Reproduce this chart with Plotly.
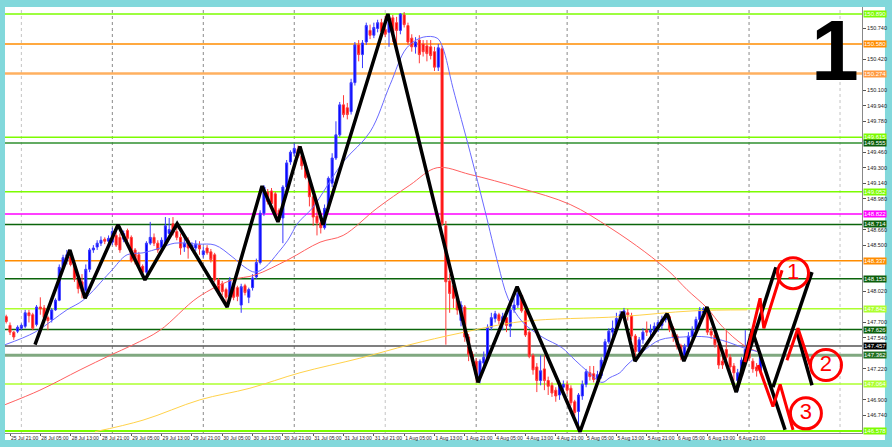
import plotly.graph_objects as go

# ---------------- data ----------------
bar_index = list(range(-1, 199))
open_ = [147.76, 147.67, 147.60, 147.61, 147.64, 147.66, 147.80, 147.78, 147.68, 147.86,
         147.85, 147.75, 147.73, 147.83, 147.93, 148.27, 148.34, 148.38, 148.30, 148.15,
         148.12, 148.03, 148.25, 148.45, 148.48, 148.52, 148.56, 148.54, 148.53, 148.60,
         148.58, 148.56, 148.65, 148.58, 148.45, 148.40, 148.28, 148.22, 148.52, 148.58,
         148.52, 148.47, 148.52, 148.62, 148.72, 148.64, 148.58, 148.48, 148.55, 148.47,
         148.47, 148.50, 148.40, 148.47, 148.43, 148.40, 148.14, 148.10, 148.04, 147.97,
         148.10, 148.06, 147.88, 148.08, 147.96, 148.06, 148.17, 148.32, 148.83, 149.05,
         149.06, 149.03, 148.86, 148.78, 149.10, 149.36, 149.45, 149.49, 149.42, 149.32,
         149.17, 149.00, 148.80, 148.73, 148.68, 148.88, 149.14, 149.40, 149.64, 149.95,
         149.92, 149.88, 150.18, 150.57, 150.47, 150.60, 150.72, 150.67, 150.74, 150.80,
         150.73, 150.70, 150.85, 150.80, 150.72, 150.88, 150.77, 150.64, 150.55, 150.62,
         150.58, 150.56, 150.55, 150.50, 150.34, 150.53, 148.70, 148.13, 148.08, 147.95,
         147.72, 147.86, 147.55, 147.37, 147.30, 147.14, 147.28, 147.32, 147.65, 147.74,
         147.78, 147.71, 147.75, 147.66, 147.83, 147.88, 147.98, 147.82, 147.60, 147.36,
         147.24, 147.10, 147.22, 147.10, 147.05, 147.00, 146.95, 147.03, 147.06, 147.02,
         146.88, 146.78, 146.94, 147.06, 147.18, 147.17, 147.12, 147.15, 147.30, 147.50,
         147.60, 147.62, 147.73, 147.76, 147.80, 147.77, 147.56, 147.40, 147.52, 147.62,
         147.60, 147.61, 147.64, 147.67, 147.73, 147.76, 147.64, 147.56, 147.46, 147.36,
         147.45, 147.55, 147.62, 147.73, 147.80, 147.84, 147.61, 147.57, 147.47, 147.30,
         147.42, 147.34, 147.25, 147.10, 147.17, 147.31, 147.40, 147.30, 147.24, 147.20]
high = [147.78, 147.70, 147.61, 147.67, 147.69, 147.83, 147.83, 147.80, 147.88, 147.96,
        147.88, 147.77, 147.85, 147.95, 148.30, 148.40, 148.45, 148.42, 148.32, 148.17,
        148.20, 148.30, 148.47, 148.50, 148.55, 148.59, 148.58, 148.60, 148.68, 148.70,
        148.62, 148.65, 148.67, 148.60, 148.47, 148.43, 148.30, 148.54, 148.74, 148.62,
        148.55, 148.58, 148.79, 148.78, 148.79, 148.70, 148.62, 148.58, 148.58, 148.53,
        148.55, 148.54, 148.48, 148.50, 148.46, 148.42, 148.16, 148.13, 148.06, 148.17,
        148.12, 148.08, 148.10, 148.10, 148.06, 148.20, 148.36, 148.86, 149.12, 149.08,
        149.09, 149.05, 148.88, 149.12, 149.38, 149.48, 149.55, 149.53, 149.44, 149.36,
        149.20, 149.02, 148.93, 148.80, 148.92, 149.21, 149.45, 149.78, 149.98, 150.05,
        149.97, 150.22, 150.60, 150.62, 150.62, 150.80, 150.78, 150.80, 150.83, 150.84,
        150.87, 150.89, 150.88, 150.86, 150.90, 150.91, 150.80, 150.68, 150.65, 150.67,
        150.62, 150.62, 150.62, 150.55, 150.58, 150.56, 148.75, 148.20, 148.12, 147.98,
        147.92, 147.88, 147.58, 147.40, 147.33, 147.32, 147.40, 147.68, 147.80, 147.82,
        147.80, 147.80, 147.78, 147.86, 147.95, 148.07, 147.92, 147.85, 147.62, 147.38,
        147.28, 147.36, 147.36, 147.14, 147.08, 147.03, 147.10, 147.10, 147.10, 147.05,
        146.90, 146.97, 147.10, 147.22, 147.25, 147.25, 147.20, 147.34, 147.53, 147.64,
        147.72, 147.80, 147.82, 147.85, 147.84, 147.80, 147.58, 147.55, 147.64, 147.71,
        147.68, 147.70, 147.73, 147.77, 147.80, 147.78, 147.66, 147.58, 147.48, 147.48,
        147.60, 147.66, 147.76, 147.86, 147.86, 147.86, 147.65, 147.60, 147.50, 147.40,
        147.62, 147.37, 147.28, 147.22, 147.34, 147.62, 147.45, 147.33, 147.28, 147.40]
low = [147.69, 147.57, 147.52, 147.59, 147.62, 147.64, 147.70, 147.62, 147.66, 147.78,
       147.73, 147.62, 147.70, 147.82, 147.92, 148.25, 148.30, 148.28, 148.12, 148.00,
       147.95, 148.00, 148.22, 148.42, 148.45, 148.49, 148.51, 148.52, 148.50, 148.48,
       148.42, 148.53, 148.54, 148.32, 148.30, 148.25, 148.16, 148.20, 148.50, 148.49,
       148.42, 148.44, 148.50, 148.58, 148.60, 148.55, 148.40, 148.43, 148.36, 148.44,
       148.44, 148.40, 148.37, 148.40, 148.32, 148.12, 147.98, 147.98, 147.86, 147.92,
       147.93, 147.92, 147.80, 147.98, 147.90, 148.03, 148.15, 148.30, 148.80, 148.92,
       148.90, 148.78, 148.74, 148.52, 149.08, 149.33, 149.42, 149.40, 149.28, 149.18,
       148.90, 148.70, 148.60, 148.62, 148.66, 148.85, 149.10, 149.38, 149.62, 149.82,
       149.80, 149.85, 150.15, 150.40, 150.33, 150.57, 150.63, 150.64, 150.70, 150.68,
       150.65, 150.55, 150.60, 150.55, 150.68, 150.75, 150.57, 150.50, 150.48, 150.38,
       150.45, 150.40, 150.42, 150.30, 150.30, 148.70, 147.47, 147.80, 147.85, 147.78,
       147.66, 147.50, 147.30, 147.25, 147.08, 147.07, 147.24, 147.30, 147.62, 147.70,
       147.68, 147.62, 147.60, 147.55, 147.80, 147.85, 147.80, 147.55, 147.33, 147.16,
       146.98, 147.05, 147.00, 146.95, 146.93, 146.88, 146.90, 146.98, 146.96, 146.84,
       146.73, 146.58, 146.90, 147.03, 147.10, 147.08, 147.08, 147.12, 147.28, 147.48,
       147.55, 147.58, 147.70, 147.72, 147.72, 147.52, 147.32, 147.36, 147.48, 147.56,
       147.56, 147.57, 147.60, 147.63, 147.70, 147.60, 147.50, 147.42, 147.31, 147.30,
       147.42, 147.52, 147.58, 147.70, 147.76, 147.57, 147.53, 147.44, 147.22, 147.22,
       147.30, 147.20, 147.10, 146.98, 147.14, 147.28, 147.30, 147.18, 147.14, 147.17]
close = [147.71, 147.60, 147.55, 147.65, 147.67, 147.80, 147.77, 147.64, 147.86, 147.84,
         147.75, 147.72, 147.83, 147.93, 148.27, 148.37, 148.40, 148.30, 148.15, 148.05,
         148.02, 148.25, 148.45, 148.47, 148.52, 148.55, 148.54, 148.57, 148.64, 148.50,
         148.45, 148.62, 148.57, 148.34, 148.35, 148.28, 148.22, 148.52, 148.58, 148.52,
         148.45, 148.55, 148.70, 148.66, 148.63, 148.58, 148.47, 148.52, 148.47, 148.50,
         148.51, 148.46, 148.44, 148.42, 148.35, 148.14, 148.02, 148.02, 147.96, 148.14,
         147.96, 147.97, 148.07, 148.01, 148.04, 148.16, 148.32, 148.83, 149.10, 148.95,
         148.93, 148.81, 148.76, 149.10, 149.35, 149.46, 149.50, 149.42, 149.32, 149.20,
         149.00, 148.79, 148.73, 148.68, 148.88, 149.19, 149.40, 149.64, 149.95, 149.85,
         149.85, 150.18, 150.57, 150.47, 150.59, 150.77, 150.67, 150.75, 150.80, 150.71,
         150.68, 150.85, 150.69, 150.72, 150.89, 150.78, 150.60, 150.55, 150.60, 150.47,
         150.50, 150.48, 150.46, 150.34, 150.54, 148.72, 148.12, 148.00, 147.95, 147.83,
         147.88, 147.55, 147.37, 147.30, 147.16, 147.30, 147.34, 147.65, 147.75, 147.79,
         147.72, 147.76, 147.67, 147.83, 147.88, 148.00, 147.82, 147.57, 147.35, 147.21,
         147.10, 147.20, 147.10, 147.04, 146.97, 146.94, 147.05, 147.06, 147.00, 146.87,
         146.77, 146.95, 147.06, 147.19, 147.14, 147.11, 147.16, 147.31, 147.50, 147.61,
         147.64, 147.74, 147.78, 147.82, 147.78, 147.56, 147.40, 147.52, 147.60, 147.60,
         147.62, 147.66, 147.70, 147.73, 147.78, 147.63, 147.55, 147.45, 147.36, 147.45,
         147.56, 147.62, 147.73, 147.83, 147.84, 147.60, 147.57, 147.47, 147.26, 147.26,
         147.34, 147.24, 147.18, 147.18, 147.31, 147.42, 147.33, 147.22, 147.20, 147.36]

tick_bars = [0, 8, 16, 24, 32, 40, 48, 56, 64, 72, 80, 88, 96, 104, 112, 120,
             128, 136, 144, 152, 160, 168, 176, 184, 192]
tick_labels = ["25 Jul 21:00", "28 Jul 05:00", "28 Jul 13:00", "28 Jul 21:00",
               "29 Jul 05:00", "29 Jul 13:00", "29 Jul 21:00", "30 Jul 05:00",
               "30 Jul 13:00", "30 Jul 21:00", "31 Jul 05:00", "31 Jul 13:00",
               "31 Jul 21:00", "1 Aug 05:00", "1 Aug 13:00", "1 Aug 21:00",
               "4 Aug 05:00", "4 Aug 13:00", "4 Aug 21:00", "5 Aug 05:00",
               "5 Aug 13:00", "5 Aug 21:00", "6 Aug 05:00", "6 Aug 13:00", "6 Aug 21:00"]
day_start_bars = [3, 27, 51, 75, 99, 123, 147, 171, 195, 219]

price_ticks = [150.740, 150.420, 150.100, 149.940, 149.780, 149.460, 149.300, 149.140,
               148.980, 148.660, 148.500, 148.020, 147.700, 147.540, 147.220, 146.900, 146.740]

level_prices = [150.890, 150.580, 150.274, 149.615, 149.555, 149.052, 148.822, 148.714,
                148.337, 148.153, 147.842, 147.626, 147.457, 147.362, 147.064, 146.578]

# moving averages (read at points along the curves)
ma_fast_bar = [-1.3, 6.6, 15.0, 19.3, 26.4, 30.9, 35.1, 39.6, 43.5, 49.6, 54.1, 58.6, 62.0, 64.6,
               67.3, 70.7, 73.3, 76.0, 79.7, 87.9, 95.0, 100.3, 104.7, 109.0, 112.7, 114.2,
               116.9, 121.4, 125.3, 128.8, 131.4, 135.1, 140.4, 145.6, 149.1, 152.5, 156.2,
               158.3, 160.9, 162.8, 167.0, 171.5, 177.6, 183.9, 189.2, 193.4, 197.1]
ma_fast_val = [147.47, 147.60, 147.83, 147.93, 148.22, 148.40, 148.42, 148.47, 148.52, 148.51,
               148.50, 148.38, 148.27, 148.22, 148.27, 148.42, 148.55, 148.73, 148.88, 149.36,
               149.67, 150.16, 150.54, 150.65, 150.64, 150.54, 150.12, 149.46, 148.86, 148.30,
               147.95, 147.71, 147.55, 147.44, 147.31, 147.19, 147.08, 147.13, 147.18, 147.26,
               147.40, 147.52, 147.55, 147.55, 147.50, 147.44, 147.40]
ma_mid_bar = [-1.3, 7.9, 18.5, 26.4, 32.5, 39.6, 49.6, 58.6, 64.6, 73.4, 81.8, 87.9, 96.8,
              105.5, 112.7, 121.4, 134.6, 147.8, 158.3, 167.5, 174.1, 178.6, 183.9, 188.1,
              193.4, 197.1]
ma_mid_val = [146.85, 147.00, 147.21, 147.36, 147.47, 147.62, 147.96, 148.14, 148.19, 148.35,
              148.53, 148.60, 148.88, 149.12, 149.30, 149.23, 149.09, 148.92, 148.68, 148.43,
              148.22, 148.04, 147.85, 147.65, 147.47, 147.40]
ma_slow_bar = [22.4, 35.1, 50.1, 63.3, 76.5, 92.3, 105.5, 118.7, 135.1, 160.9, 180.2, 194.5]
ma_slow_val = [146.57, 146.69, 146.90, 147.02, 147.18, 147.33, 147.47, 147.59, 147.71, 147.76,
               147.82, 147.83]

# hand-drawn wave lines
zigzag_bar = [6.6, 15.8, 19.8, 28.5, 35.6, 44.1, 57.3, 66.5, 70.7, 76.5, 82.6, 99.7, 123.5,
              133.8, 150.4, 161.7, 164.9, 173.4, 177.8, 183.9, 191.6, 195.8, 204.5]
zigzag_price = [147.47, 148.45, 147.95, 148.71, 148.14, 148.72, 147.86, 149.11, 148.74, 149.52,
                148.71, 150.89, 147.08, 148.07, 146.57, 147.81, 147.30, 147.79, 147.30, 147.86,
                146.98, 147.62, 146.59]
black_extra_bar = [[191.6, 202.1], [201.3, 211.6], [207.7, 211.6]]
black_extra_price = [[146.98, 148.27], [147.03, 148.22], [147.59, 147.05]]
red_path_bar = [[193.9, 197.9, 198.9, 203.7], [205.0, 207.9, 211.1], [197.4, 201.3, 203.2, 206.6]]
red_path_price = [[147.29, 147.95, 147.64, 148.24], [147.31, 147.64, 147.26],
                  [147.26, 146.83, 147.06, 146.59]]
circle_bar = [206.6, 215.3, 210.0]
circle_price = [148.21, 147.26, 146.76]
circle_label = ["1", "2", "3"]
big_label = "1"

# ---------------- styles ----------------
level_line_colors = ["#7CFC00", "#FF8C00", "#FFB060", "#7CFC00", "#2F8F2F", "#7CFC00", "#FF00FF",
                     "#0B640B", "#FF8C00", "#0B640B", "#ADFF2F", "#0B640B", "#555555", "#80A880",
                     "#ADFF2F", "#7CFC00"]
level_label_colors = ["#7CFC00", "#FF8C00", "#FF9A40", "#7CFC00", "#0B5E0B", "#7CFC00", "#FF00FF",
                      "#0B5E0B", "#FF8C00", "#0B5E0B", "#ADFF2F", "#0B5E0B", "#000000", "#1F6F1F",
                      "#ADFF2F", "#7CFC00"]
level_widths = [1.5, 1.5, 2.5, 1.5, 1.5, 1.5, 1.5, 1.5, 1.5, 1.5, 1.5, 1.5, 1.5, 3, 1.5, 2]
day_line_colors = ["#c4c4c4", "#8a8a8a", "#8a8a8a", "#8a8a8a", "#c4c4c4", "#8a8a8a",
                   "#8a8a8a", "#8a8a8a", "#8a8a8a", "#c4c4c4"]

X_RANGE = [-1.32, 224.8]
Y_RANGE = [146.557, 150.962]
FONT = "Liberation Sans, Arial, sans-serif"

fig = go.Figure()

fig.add_trace(go.Candlestick(
    x=bar_index, open=open_, high=high, low=low, close=close,
    increasing=dict(line=dict(color="#3a3aff", width=1), fillcolor="#0000ff"),
    decreasing=dict(line=dict(color="#ff3a3a", width=1), fillcolor="#ff0000"),
    whiskerwidth=0, showlegend=False, hoverinfo="skip"))

fig.add_trace(go.Scatter(x=ma_slow_bar, y=ma_slow_val, mode="lines", line=dict(color="#FFD24A", width=1, shape="spline"), showlegend=False, hoverinfo="skip"))
fig.add_trace(go.Scatter(x=ma_mid_bar, y=ma_mid_val, mode="lines", line=dict(color="#FF6060", width=1, shape="spline"), showlegend=False, hoverinfo="skip"))
fig.add_trace(go.Scatter(x=ma_fast_bar, y=ma_fast_val, mode="lines", line=dict(color="#6A6AFF", width=1, shape="spline"), showlegend=False, hoverinfo="skip"))

fig.add_trace(go.Scatter(x=zigzag_bar, y=zigzag_price, mode="lines", line=dict(color="#000000", width=3.5), showlegend=False, hoverinfo="skip"))
for bx, py in zip(black_extra_bar, black_extra_price):
    fig.add_trace(go.Scatter(x=bx, y=py, mode="lines", line=dict(color="#000000", width=3.5), showlegend=False, hoverinfo="skip"))
for bx, py in zip(red_path_bar, red_path_price):
    fig.add_trace(go.Scatter(x=bx, y=py, mode="lines", line=dict(color="#FF0000", width=3), showlegend=False, hoverinfo="skip"))

fig.add_trace(go.Scatter(
    x=circle_bar, y=circle_price, mode="markers+text", text=circle_label,
    textposition="middle center", textfont=dict(color="#FF0000", size=22, family=FONT),
    marker=dict(symbol="circle-open", size=31, color="#FF0000", line=dict(width=3)),
    showlegend=False, hoverinfo="skip", cliponaxis=False))

shapes = [dict(type="rect", xref="paper", yref="paper", x0=0, x1=1.0268, y0=-0.0165, y1=1.0,
               fillcolor="white", line=dict(width=0), layer="below")]
for d, dc in zip(day_start_bars, day_line_colors):
    shapes.append(dict(type="line", xref="x", yref="paper", x0=d, x1=d, y0=0, y1=1,
                       line=dict(color=dc, width=1, dash="dot"), layer="below"))
for p, c, w in zip(level_prices, level_line_colors, level_widths):
    shapes.append(dict(type="line", xref="paper", yref="y", x0=0, x1=1, y0=p, y1=p,
                       line=dict(color=c, width=w), layer="below"))

annotations = []
for p, c in zip(level_prices, level_label_colors):
    annotations.append(dict(xref="paper", yref="y", x=1, y=p, xanchor="left", yanchor="middle",
                            xshift=1, text=f"{p:.3f}", showarrow=False, bgcolor=c,
                            font=dict(size=6, color="white", family=FONT), borderpad=0))
annotations.append(dict(xref="paper", yref="paper", x=0.968, y=1.0, xanchor="center",
                        yanchor="top", yshift=6, borderpad=0, text=f"<b>{big_label}</b>",
                        showarrow=False, font=dict(size=86, color="black", family=FONT)))

fig.update_layout(
    width=892, height=447,
    margin=dict(l=5, r=30, t=7, b=14),
    paper_bgcolor="#82D8DB", plot_bgcolor="rgba(0,0,0,0)",
    boxgap=0.22,
    shapes=shapes, annotations=annotations,
    font=dict(family=FONT, color="#222"),
    xaxis=dict(range=X_RANGE, tickmode="array", tickvals=tick_bars, ticktext=tick_labels,
               ticks="outside", ticklen=2, tickcolor="#555", tickfont=dict(size=5, color="#222"),
               tickangle=0, ticklabelposition="outside right", showgrid=False, zeroline=False,
               showline=True, linecolor="#888", linewidth=1, rangeslider=dict(visible=False),
               fixedrange=True),
    yaxis=dict(range=Y_RANGE, side="right", tickmode="array", tickvals=price_ticks,
               tickformat=".3f", ticks="outside", ticklen=3, tickcolor="#555",
               tickfont=dict(size=5.5, color="#222"), showgrid=False, zeroline=False,
               showline=True, linecolor="#888", linewidth=1, fixedrange=True),
)

fig.write_html("out.html", config={"displayModeBar": False},
               post_script="document.body.style.margin='0';document.body.style.overflow='hidden';")
